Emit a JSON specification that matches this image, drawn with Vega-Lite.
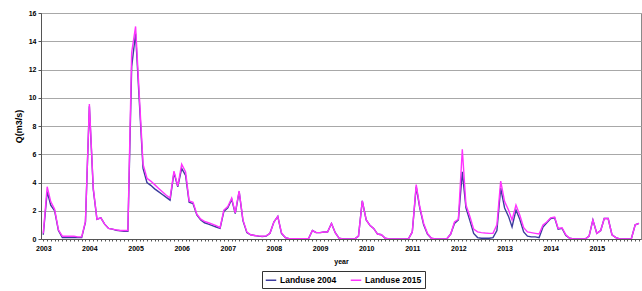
{
  "$schema": "https://vega.github.io/schema/vega-lite/v6.json",
  "width": 600,
  "height": 226,
  "autosize": {"type": "none"},
  "padding": {"left": 41, "top": 13, "right": 1, "bottom": 52},
  "background": "white",
  "config": {
    "font": "Liberation Sans",
    "view": {"stroke": "#8a8a8a", "strokeWidth": 1}
  },
  "data": {"values": [
    {"d":"2003-01-01","Landuse 2004":0.3,"Landuse 2015":0.4},
    {"d":"2003-02-01","Landuse 2004":3.35,"Landuse 2015":3.7},
    {"d":"2003-03-01","Landuse 2004":2.4,"Landuse 2015":2.65},
    {"d":"2003-04-01","Landuse 2004":2.0,"Landuse 2015":2.1},
    {"d":"2003-05-01","Landuse 2004":0.6,"Landuse 2015":0.65},
    {"d":"2003-06-01","Landuse 2004":0.1,"Landuse 2015":0.2},
    {"d":"2003-07-01","Landuse 2004":0.1,"Landuse 2015":0.2},
    {"d":"2003-08-01","Landuse 2004":0.1,"Landuse 2015":0.2},
    {"d":"2003-09-01","Landuse 2004":0.1,"Landuse 2015":0.2},
    {"d":"2003-10-01","Landuse 2004":0.1,"Landuse 2015":0.15},
    {"d":"2003-11-01","Landuse 2004":0.1,"Landuse 2015":0.15},
    {"d":"2003-12-01","Landuse 2004":1.2,"Landuse 2015":1.25},
    {"d":"2004-01-01","Landuse 2004":9.4,"Landuse 2015":9.55},
    {"d":"2004-02-01","Landuse 2004":3.5,"Landuse 2015":3.6},
    {"d":"2004-03-01","Landuse 2004":1.4,"Landuse 2015":1.4},
    {"d":"2004-04-01","Landuse 2004":1.5,"Landuse 2015":1.5},
    {"d":"2004-05-01","Landuse 2004":1.05,"Landuse 2015":1.05},
    {"d":"2004-06-01","Landuse 2004":0.75,"Landuse 2015":0.75},
    {"d":"2004-07-01","Landuse 2004":0.7,"Landuse 2015":0.7},
    {"d":"2004-08-01","Landuse 2004":0.62,"Landuse 2015":0.65},
    {"d":"2004-09-01","Landuse 2004":0.58,"Landuse 2015":0.6},
    {"d":"2004-10-01","Landuse 2004":0.55,"Landuse 2015":0.6},
    {"d":"2004-11-01","Landuse 2004":0.55,"Landuse 2015":0.6},
    {"d":"2004-12-01","Landuse 2004":12.2,"Landuse 2015":13.2},
    {"d":"2005-01-01","Landuse 2004":14.55,"Landuse 2015":15.05},
    {"d":"2005-02-01","Landuse 2004":9.5,"Landuse 2015":9.9},
    {"d":"2005-03-01","Landuse 2004":5.0,"Landuse 2015":5.3},
    {"d":"2005-04-01","Landuse 2004":4.0,"Landuse 2015":4.3},
    {"d":"2005-05-01","Landuse 2004":3.8,"Landuse 2015":4.1},
    {"d":"2005-06-01","Landuse 2004":3.55,"Landuse 2015":3.85},
    {"d":"2005-07-01","Landuse 2004":3.35,"Landuse 2015":3.6},
    {"d":"2005-08-01","Landuse 2004":3.15,"Landuse 2015":3.35},
    {"d":"2005-09-01","Landuse 2004":2.95,"Landuse 2015":3.1},
    {"d":"2005-10-01","Landuse 2004":2.75,"Landuse 2015":2.9},
    {"d":"2005-11-01","Landuse 2004":4.7,"Landuse 2015":4.8},
    {"d":"2005-12-01","Landuse 2004":3.7,"Landuse 2015":3.75},
    {"d":"2006-01-01","Landuse 2004":5.0,"Landuse 2015":5.3},
    {"d":"2006-02-01","Landuse 2004":4.5,"Landuse 2015":4.75},
    {"d":"2006-03-01","Landuse 2004":2.6,"Landuse 2015":2.7},
    {"d":"2006-04-01","Landuse 2004":2.5,"Landuse 2015":2.6},
    {"d":"2006-05-01","Landuse 2004":1.7,"Landuse 2015":1.75},
    {"d":"2006-06-01","Landuse 2004":1.35,"Landuse 2015":1.4},
    {"d":"2006-07-01","Landuse 2004":1.15,"Landuse 2015":1.25},
    {"d":"2006-08-01","Landuse 2004":1.05,"Landuse 2015":1.15},
    {"d":"2006-09-01","Landuse 2004":0.95,"Landuse 2015":1.05},
    {"d":"2006-10-01","Landuse 2004":0.85,"Landuse 2015":0.95},
    {"d":"2006-11-01","Landuse 2004":0.75,"Landuse 2015":0.8},
    {"d":"2006-12-01","Landuse 2004":1.95,"Landuse 2015":2.05},
    {"d":"2007-01-01","Landuse 2004":2.2,"Landuse 2015":2.3},
    {"d":"2007-02-01","Landuse 2004":2.8,"Landuse 2015":2.9},
    {"d":"2007-03-01","Landuse 2004":1.8,"Landuse 2015":1.85},
    {"d":"2007-04-01","Landuse 2004":3.35,"Landuse 2015":3.4},
    {"d":"2007-05-01","Landuse 2004":1.3,"Landuse 2015":1.35},
    {"d":"2007-06-01","Landuse 2004":0.45,"Landuse 2015":0.5},
    {"d":"2007-07-01","Landuse 2004":0.3,"Landuse 2015":0.3},
    {"d":"2007-08-01","Landuse 2004":0.25,"Landuse 2015":0.25},
    {"d":"2007-09-01","Landuse 2004":0.2,"Landuse 2015":0.22},
    {"d":"2007-10-01","Landuse 2004":0.18,"Landuse 2015":0.2},
    {"d":"2007-11-01","Landuse 2004":0.2,"Landuse 2015":0.22},
    {"d":"2007-12-01","Landuse 2004":0.4,"Landuse 2015":0.4},
    {"d":"2008-01-01","Landuse 2004":1.2,"Landuse 2015":1.2},
    {"d":"2008-02-01","Landuse 2004":1.6,"Landuse 2015":1.6},
    {"d":"2008-03-01","Landuse 2004":0.4,"Landuse 2015":0.45},
    {"d":"2008-04-01","Landuse 2004":0.1,"Landuse 2015":0.1},
    {"d":"2008-05-01","Landuse 2004":0.02,"Landuse 2015":0.02},
    {"d":"2008-06-01","Landuse 2004":0.02,"Landuse 2015":0.02},
    {"d":"2008-07-01","Landuse 2004":0.02,"Landuse 2015":0.02},
    {"d":"2008-08-01","Landuse 2004":0.02,"Landuse 2015":0.02},
    {"d":"2008-09-01","Landuse 2004":0.02,"Landuse 2015":0.02},
    {"d":"2008-10-01","Landuse 2004":0.02,"Landuse 2015":0.02},
    {"d":"2008-11-01","Landuse 2004":0.6,"Landuse 2015":0.6},
    {"d":"2008-12-01","Landuse 2004":0.45,"Landuse 2015":0.45},
    {"d":"2009-01-01","Landuse 2004":0.45,"Landuse 2015":0.45},
    {"d":"2009-02-01","Landuse 2004":0.5,"Landuse 2015":0.5},
    {"d":"2009-03-01","Landuse 2004":0.5,"Landuse 2015":0.5},
    {"d":"2009-04-01","Landuse 2004":1.1,"Landuse 2015":1.1},
    {"d":"2009-05-01","Landuse 2004":0.45,"Landuse 2015":0.45},
    {"d":"2009-06-01","Landuse 2004":0.05,"Landuse 2015":0.05},
    {"d":"2009-07-01","Landuse 2004":0,"Landuse 2015":0},
    {"d":"2009-08-01","Landuse 2004":0,"Landuse 2015":0},
    {"d":"2009-09-01","Landuse 2004":0,"Landuse 2015":0},
    {"d":"2009-10-01","Landuse 2004":0,"Landuse 2015":0},
    {"d":"2009-11-01","Landuse 2004":0.2,"Landuse 2015":0.2},
    {"d":"2009-12-01","Landuse 2004":2.7,"Landuse 2015":2.7},
    {"d":"2010-01-01","Landuse 2004":1.35,"Landuse 2015":1.35},
    {"d":"2010-02-01","Landuse 2004":0.95,"Landuse 2015":0.95},
    {"d":"2010-03-01","Landuse 2004":0.75,"Landuse 2015":0.75},
    {"d":"2010-04-01","Landuse 2004":0.35,"Landuse 2015":0.35},
    {"d":"2010-05-01","Landuse 2004":0.3,"Landuse 2015":0.3},
    {"d":"2010-06-01","Landuse 2004":0.05,"Landuse 2015":0.05},
    {"d":"2010-07-01","Landuse 2004":0,"Landuse 2015":0},
    {"d":"2010-08-01","Landuse 2004":0,"Landuse 2015":0},
    {"d":"2010-09-01","Landuse 2004":0,"Landuse 2015":0},
    {"d":"2010-10-01","Landuse 2004":0,"Landuse 2015":0},
    {"d":"2010-11-01","Landuse 2004":0,"Landuse 2015":0},
    {"d":"2010-12-01","Landuse 2004":0,"Landuse 2015":0},
    {"d":"2011-01-01","Landuse 2004":0.5,"Landuse 2015":0.5},
    {"d":"2011-02-01","Landuse 2004":3.7,"Landuse 2015":3.85},
    {"d":"2011-03-01","Landuse 2004":2.2,"Landuse 2015":2.3},
    {"d":"2011-04-01","Landuse 2004":1.0,"Landuse 2015":1.1},
    {"d":"2011-05-01","Landuse 2004":0.35,"Landuse 2015":0.4},
    {"d":"2011-06-01","Landuse 2004":0.05,"Landuse 2015":0.05},
    {"d":"2011-07-01","Landuse 2004":0,"Landuse 2015":0},
    {"d":"2011-08-01","Landuse 2004":0,"Landuse 2015":0},
    {"d":"2011-09-01","Landuse 2004":0,"Landuse 2015":0},
    {"d":"2011-10-01","Landuse 2004":0,"Landuse 2015":0},
    {"d":"2011-11-01","Landuse 2004":0.35,"Landuse 2015":0.35},
    {"d":"2011-12-01","Landuse 2004":1.1,"Landuse 2015":1.2},
    {"d":"2012-01-01","Landuse 2004":1.35,"Landuse 2015":1.4},
    {"d":"2012-02-01","Landuse 2004":4.75,"Landuse 2015":6.35},
    {"d":"2012-03-01","Landuse 2004":2.2,"Landuse 2015":2.4},
    {"d":"2012-04-01","Landuse 2004":1.3,"Landuse 2015":1.6},
    {"d":"2012-05-01","Landuse 2004":0.4,"Landuse 2015":0.7},
    {"d":"2012-06-01","Landuse 2004":0.1,"Landuse 2015":0.5},
    {"d":"2012-07-01","Landuse 2004":0.05,"Landuse 2015":0.45},
    {"d":"2012-08-01","Landuse 2004":0.05,"Landuse 2015":0.42},
    {"d":"2012-09-01","Landuse 2004":0.05,"Landuse 2015":0.4},
    {"d":"2012-10-01","Landuse 2004":0.1,"Landuse 2015":0.4},
    {"d":"2012-11-01","Landuse 2004":0.6,"Landuse 2015":1.0},
    {"d":"2012-12-01","Landuse 2004":3.6,"Landuse 2015":4.1},
    {"d":"2013-01-01","Landuse 2004":2.2,"Landuse 2015":2.65},
    {"d":"2013-02-01","Landuse 2004":1.6,"Landuse 2015":2.05},
    {"d":"2013-03-01","Landuse 2004":0.85,"Landuse 2015":1.35},
    {"d":"2013-04-01","Landuse 2004":2.05,"Landuse 2015":2.4},
    {"d":"2013-05-01","Landuse 2004":1.4,"Landuse 2015":1.7},
    {"d":"2013-06-01","Landuse 2004":0.5,"Landuse 2015":0.8},
    {"d":"2013-07-01","Landuse 2004":0.2,"Landuse 2015":0.5},
    {"d":"2013-08-01","Landuse 2004":0.15,"Landuse 2015":0.45},
    {"d":"2013-09-01","Landuse 2004":0.15,"Landuse 2015":0.4},
    {"d":"2013-10-01","Landuse 2004":0.1,"Landuse 2015":0.35},
    {"d":"2013-11-01","Landuse 2004":0.85,"Landuse 2015":1.0},
    {"d":"2013-12-01","Landuse 2004":1.15,"Landuse 2015":1.2},
    {"d":"2014-01-01","Landuse 2004":1.45,"Landuse 2015":1.5},
    {"d":"2014-02-01","Landuse 2004":1.5,"Landuse 2015":1.55},
    {"d":"2014-03-01","Landuse 2004":0.7,"Landuse 2015":0.75},
    {"d":"2014-04-01","Landuse 2004":0.75,"Landuse 2015":0.8},
    {"d":"2014-05-01","Landuse 2004":0.25,"Landuse 2015":0.3},
    {"d":"2014-06-01","Landuse 2004":0.05,"Landuse 2015":0.05},
    {"d":"2014-07-01","Landuse 2004":0,"Landuse 2015":0},
    {"d":"2014-08-01","Landuse 2004":0,"Landuse 2015":0},
    {"d":"2014-09-01","Landuse 2004":0,"Landuse 2015":0},
    {"d":"2014-10-01","Landuse 2004":0,"Landuse 2015":0},
    {"d":"2014-11-01","Landuse 2004":0.2,"Landuse 2015":0.2},
    {"d":"2014-12-01","Landuse 2004":1.35,"Landuse 2015":1.35},
    {"d":"2015-01-01","Landuse 2004":0.4,"Landuse 2015":0.4},
    {"d":"2015-02-01","Landuse 2004":0.6,"Landuse 2015":0.6},
    {"d":"2015-03-01","Landuse 2004":1.45,"Landuse 2015":1.45},
    {"d":"2015-04-01","Landuse 2004":1.45,"Landuse 2015":1.45},
    {"d":"2015-05-01","Landuse 2004":0.3,"Landuse 2015":0.3},
    {"d":"2015-06-01","Landuse 2004":0.1,"Landuse 2015":0.1},
    {"d":"2015-07-01","Landuse 2004":0,"Landuse 2015":0},
    {"d":"2015-08-01","Landuse 2004":0,"Landuse 2015":0},
    {"d":"2015-09-01","Landuse 2004":0,"Landuse 2015":0},
    {"d":"2015-10-01","Landuse 2004":0,"Landuse 2015":0},
    {"d":"2015-11-01","Landuse 2004":1.0,"Landuse 2015":1.0},
    {"d":"2015-12-01","Landuse 2004":1.1,"Landuse 2015":1.1}
  ]},
  "transform": [
    {"fold": ["Landuse 2004", "Landuse 2015"], "as": ["series", "q"]}
  ],
  "mark": {"type": "line", "strokeWidth": 1.4, "clip": true},
  "encoding": {
    "x": {
      "field": "d",
      "type": "temporal",
      "scale": {
        "type": "utc",
        "domain": [
          {"year": 2002, "month": 12, "date": 14, "utc": true},
          {"year": 2015, "month": 12, "date": 17, "utc": true}
        ]
      },
      "axis": {
        "title": "year",
        "titleFont": "Liberation Sans",
        "titleFontSize": 7,
        "titleFontWeight": "bold",
        "titleColor": "#000",
        "titlePadding": 6,
        "tickCount": {"interval": "month", "step": 1},
        "labelExpr": "utcFormat(datum.value,'%m')=='01' ? utcFormat(datum.value,'%Y') : ''",
        "labelOverlap": false,
        "labelFlush": false,
        "labelBound": false,
        "labelFont": "Liberation Sans",
        "labelFontSize": 7,
        "labelFontWeight": "bold",
        "labelColor": "#000",
        "labelPadding": 3,
        "tickSize": 2,
        "tickColor": "#555",
        "domainColor": "#555",
        "grid": false
      }
    },
    "y": {
      "field": "q",
      "type": "quantitative",
      "scale": {"domain": [0, 16], "nice": false},
      "axis": {
        "title": "Q(m3/s)",
        "titleFont": "Liberation Sans",
        "titleFontSize": 9,
        "titleFontWeight": "bold",
        "titleColor": "#000",
        "titlePadding": 5,
        "values": [0, 2, 4, 6, 8, 10, 12, 14, 16],
        "labelFont": "Liberation Sans",
        "labelFontSize": 7,
        "labelFontWeight": "bold",
        "labelColor": "#000",
        "labelPadding": 2,
        "tickSize": 3,
        "tickColor": "#555",
        "domainColor": "#555",
        "grid": true,
        "gridColor": "#a8a8a8",
        "gridWidth": 1
      }
    },
    "color": {
      "field": "series",
      "type": "nominal",
      "scale": {"domain": ["Landuse 2004", "Landuse 2015"], "range": ["#3c3c9e", "#ff33ff"]},
      "legend": {
        "title": null,
        "orient": "none",
        "legendX": 221,
        "legendY": 258,
        "direction": "horizontal",
        "strokeColor": "#333",
        "fillColor": "white",
        "padding": 3,
        "labelFont": "Liberation Sans",
        "labelFontSize": 8.5,
        "labelFontWeight": "bold",
        "labelColor": "#000",
        "symbolType": "stroke",
        "symbolStrokeWidth": 1.5,
        "symbolSize": 110,
        "columnPadding": 10,
        "labelOffset": 3
      }
    }
  }
}
